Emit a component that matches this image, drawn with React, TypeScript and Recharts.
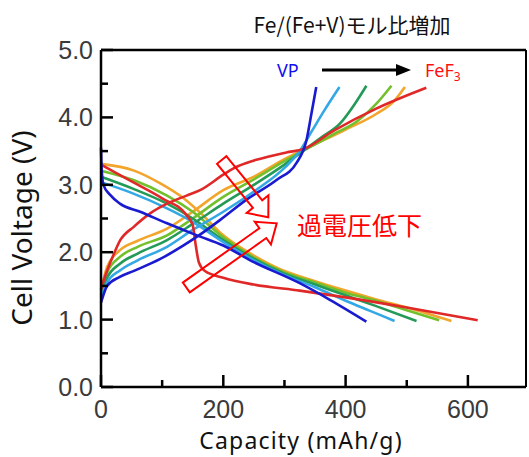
import React from "react"
import { LineChart, Line, XAxis, YAxis, ReferenceLine } from "recharts"

// capacity (mAh/g) / voltage (V) for each composition, VP -> FeF3
const vpChgCap = [0, 10, 30, 53, 97, 135, 157, 195, 238, 287, 320, 336, 344, 352]
const vpChgV = [1.25, 1.5, 1.63, 1.72, 1.9, 2.1, 2.23, 2.48, 2.78, 3.07, 3.33, 3.66, 4.05, 4.45]
const vpDisCap = [0, 1, 4, 15, 31, 64, 108, 157, 200, 244, 325, 375, 434]
const vpDisV = [3.55, 3.25, 3.0, 2.85, 2.72, 2.6, 2.43, 2.25, 2.1, 1.88, 1.54, 1.29, 0.97]

const s2ChgCap = [0, 10, 31, 60, 108, 150, 200, 250, 300, 325, 345, 365, 390]
const s2ChgV = [1.33, 1.55, 1.73, 1.88, 2.08, 2.33, 2.6, 2.9, 3.25, 3.5, 3.8, 4.1, 4.45]
const s2DisCap = [0, 50, 108, 150, 200, 250, 300, 350, 400, 440, 480]
const s2DisV = [3.04, 2.88, 2.65, 2.45, 2.15, 1.88, 1.66, 1.48, 1.28, 1.13, 0.98]

const s3ChgCap = [0, 10, 31, 60, 108, 150, 200, 250, 300, 330, 360, 391, 415, 434]
const s3ChgV = [1.38, 1.62, 1.83, 1.98, 2.18, 2.42, 2.72, 3.0, 3.3, 3.5, 3.7, 3.91, 4.2, 4.47]
const s3DisCap = [0, 53, 108, 150, 200, 250, 300, 350, 400, 450, 516]
const s3DisV = [3.12, 2.94, 2.72, 2.5, 2.18, 1.9, 1.68, 1.52, 1.36, 1.2, 0.98]

const s4ChgCap = [0, 10, 31, 60, 108, 150, 200, 250, 300, 340, 380, 420, 450, 475]
const s4ChgV = [1.42, 1.7, 1.93, 2.08, 2.25, 2.5, 2.82, 3.08, 3.35, 3.55, 3.75, 3.95, 4.2, 4.47]
const s4DisCap = [0, 53, 108, 150, 200, 250, 300, 350, 400, 450, 500, 553]
const s4DisV = [3.21, 3.07, 2.84, 2.6, 2.22, 1.92, 1.7, 1.55, 1.4, 1.28, 1.14, 0.99]

const s5ChgCap = [0, 10, 31, 60, 108, 150, 200, 250, 300, 350, 400, 450, 480, 497]
const s5ChgV = [1.45, 1.78, 2.03, 2.17, 2.35, 2.6, 2.92, 3.12, 3.38, 3.6, 3.82, 4.05, 4.25, 4.45]
const s5DisCap = [0, 54, 97, 135, 163, 200, 250, 300, 350, 400, 450, 500, 573]
const s5DisV = [3.31, 3.21, 3.02, 2.8, 2.58, 2.25, 1.95, 1.72, 1.57, 1.43, 1.3, 1.18, 0.98]

const feChgCap = [0, 7, 20, 31, 54, 81, 108, 140, 162, 200, 216, 254, 303, 331, 380, 450, 532]
const feChgV = [1.45, 1.65, 1.95, 2.17, 2.38, 2.58, 2.72, 2.84, 2.92, 3.15, 3.24, 3.37, 3.48, 3.53, 3.8, 4.13, 4.44]
const feDisCap = [0, 50, 100, 140, 150, 155, 160, 170, 200, 250, 325, 400, 500, 616]
const feDisV = [3.3, 3.05, 2.8, 2.55, 2.4, 2.1, 1.85, 1.72, 1.62, 1.52, 1.43, 1.33, 1.18, 0.99]

const xTicks = [0, 100, 200, 300, 400, 500, 600]
const yTicks = [0, 0.5, 1, 1.5, 2, 2.5, 3, 3.5, 4, 4.5, 5]

const pts = (cap: number[], v: number[]) => cap.map((c, i) => ({ c, v: v[i] }))

const series = [
  { key: "s5", color: "#f2a52a", chg: pts(s5ChgCap, s5ChgV), dis: pts(s5DisCap, s5DisV) },
  { key: "s4", color: "#72c02c", chg: pts(s4ChgCap, s4ChgV), dis: pts(s4DisCap, s4DisV) },
  { key: "s3", color: "#249a58", chg: pts(s3ChgCap, s3ChgV), dis: pts(s3DisCap, s3DisV) },
  { key: "s2", color: "#33a8e4", chg: pts(s2ChgCap, s2ChgV), dis: pts(s2DisCap, s2DisV) },
  { key: "fe", color: "#e02828", chg: pts(feChgCap, feChgV), dis: pts(feDisCap, feDisV) },
  { key: "vp", color: "#1a1ad0", chg: pts(vpChgCap, vpChgV), dis: pts(vpDisCap, vpDisV) },
]

const tickFont = { fontFamily: "Liberation Sans, Arial", fontSize: 25, fill: "#3a3a3a" }

const YTick = (p: any) => {
  const major = Number.isInteger(p.payload.value)
  return (
    <g>
      <line x1={p.x} x2={p.x + (major ? 12 : 7)} y1={p.y} y2={p.y} stroke="#000" strokeWidth={2.5} />
      {major && (
        <text x={p.x - 8} y={p.y} dy="0.36em" textAnchor="end" {...tickFont}>
          {p.payload.value.toFixed(1)}
        </text>
      )}
    </g>
  )
}

const XTick = (p: any) => {
  const major = p.payload.value % 200 === 0
  return (
    <g>
      <line x1={p.x} x2={p.x} y1={p.y} y2={p.y - (major ? 12 : 7)} stroke="#000" strokeWidth={2.5} />
      {major && (
        <text x={p.x} y={p.y + 31} textAnchor="middle" {...tickFont}>
          {p.payload.value}
        </text>
      )}
    </g>
  )
}

function blockArrow(x1: number, y1: number, x2: number, y2: number, sw = 6, hw = 14, hl = 17) {
  const L = Math.hypot(x2 - x1, y2 - y1)
  const ux = (x2 - x1) / L, uy = (y2 - y1) / L
  const px = -uy, py = ux
  const bx = x2 - ux * hl, by = y2 - uy * hl
  const p = [
    [x1 + px * sw, y1 + py * sw],
    [bx + px * sw, by + py * sw],
    [bx + px * hw, by + py * hw],
    [x2, y2],
    [bx - px * hw, by - py * hw],
    [bx - px * sw, by - py * sw],
    [x1 - px * sw, y1 - py * sw],
  ]
  return p.map((q) => q.join(",")).join(" ")
}

export default function App() {
  return (
    <div style={{ position: "absolute", left: 0, top: 0, width: 529, height: 457, background: "#fff" }}>
      <LineChart width={529} height={457} margin={{ top: 50, right: 3, bottom: 40, left: 61 }}>
        <XAxis
          type="number"
          dataKey="c"
          domain={[0, 695]}
          ticks={xTicks}
          tick={<XTick />}
          tickSize={0}
          tickMargin={0}
          tickLine={false}
          height={30}
          axisLine={{ stroke: "#000", strokeWidth: 2.5 }}
        />
        <YAxis
          type="number"
          domain={[0, 5]}
          ticks={yTicks}
          tick={<YTick />}
          tickSize={0}
          tickMargin={0}
          tickLine={false}
          width={40}
          axisLine={{ stroke: "#000", strokeWidth: 2.5 }}
        />
        <ReferenceLine y={5} stroke="#000" strokeWidth={2.5} />
        <ReferenceLine x={695} stroke="#000" strokeWidth={2} />
        {series.flatMap((s) => [
          <Line key={s.key + "d"} data={s.dis} dataKey="v" type="monotone" dot={false} stroke={s.color} strokeWidth={2.6} isAnimationActive={false} />,
          <Line key={s.key + "c"} data={s.chg} dataKey="v" type="monotone" dot={false} stroke={s.color} strokeWidth={2.6} isAnimationActive={false} />,
        ])}
      </LineChart>
      <svg width={529} height={457} style={{ position: "absolute", left: 0, top: 0, pointerEvents: "none" }}>
        <text x={352} y={33} textAnchor="middle" fontFamily="Noto Sans CJK JP" fontSize={21} fill="#111">
          Fe/(Fe+V)モル比増加
        </text>
        <text x={277} y={77} fontFamily="Noto Sans" fontSize={18} fill="#1010f0">VP</text>
        <line x1={322} y1={70} x2={398} y2={70} stroke="#000" strokeWidth={3} />
        <polygon points="396,64 411,70 396,76" fill="#000" />
        <text x={425} y={77} fontFamily="Noto Sans" fontSize={18} fill="#ff1010">
          FeF<tspan fontSize={12} dy={4}>3</tspan>
        </text>
        <polygon points={blockArrow(221.7, 160, 268.3, 217.3)} fill="none" stroke="#ff0000" strokeWidth={2} />
        <polygon points={blockArrow(186.3, 287.5, 276.7, 223.3)} fill="none" stroke="#ff0000" strokeWidth={2} />
        <text x={297} y={235} fontFamily="Noto Sans CJK JP" fontSize={25} fill="#ff0000">過電圧低下</text>
        <text x={301} y={449} textAnchor="middle" fontFamily="Noto Sans" fontSize={23} fill="#111" letterSpacing={1.2}>
          Capacity (mAh/g)
        </text>
        <text transform="translate(32,228) rotate(-90)" textAnchor="middle" fontFamily="Noto Sans" fontSize={28} fill="#111">
          Cell Voltage (V)
        </text>
      </svg>
    </div>
  )
}
